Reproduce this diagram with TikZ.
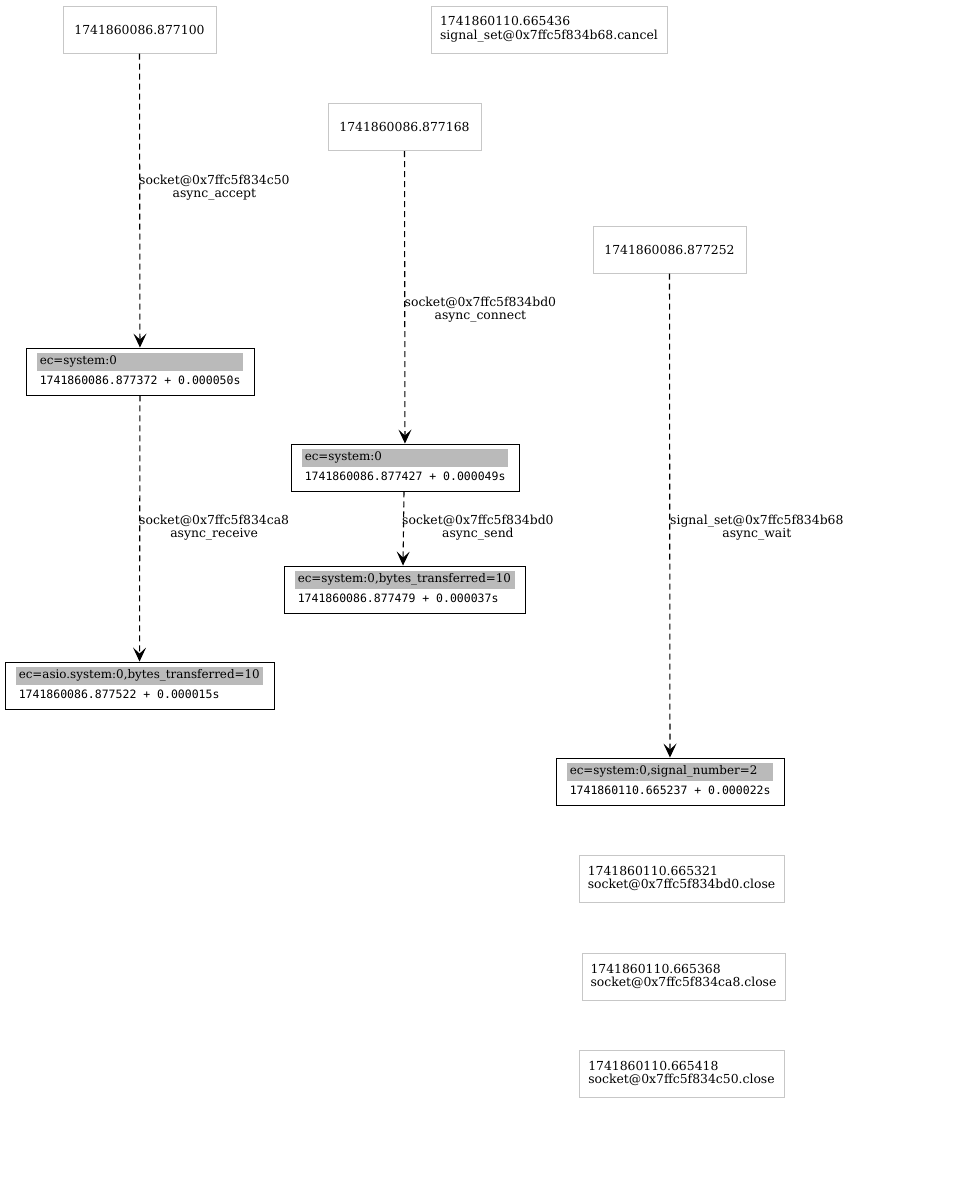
\documentclass[tikz,border=0pt]{standalone}
\usepackage{fontspec}
\setmainfont{DejaVu Serif}
\setmonofont{DejaVu Sans Mono}
\usetikzlibrary{arrows.meta,calc}
\newcommand{\srf}{\fontsize{12.4}{13.5}\selectfont}
\newcommand{\srfs}{\fontsize{11.9}{13.5}\selectfont}
\newcommand{\mno}{\ttfamily\fontsize{11.5}{13}\selectfont}
\begin{document}
\begin{tikzpicture}[x=1pt,y=-1pt,
  plainbox/.style={draw=black!22, line width=1pt, minimum height=47pt, inner sep=0pt, align=left, font=\srf},
  resbox/.style={draw=black, line width=0.9pt, minimum height=47pt, inner sep=0pt},
  cell/.style={fill=black!27},
  lbl/.style={anchor=west, inner sep=0pt, font=\srfs},
  mono/.style={anchor=west, inner sep=0pt, font=\mno},
  edge/.style={line width=1.1pt, dash pattern=on 6pt off 4pt, -{Stealth[length=14pt,width=13pt,inset=6pt]}},
  elbl/.style={anchor=west, inner sep=0pt, align=center, font=\srf}]
\useasboundingbox (0,0) rectangle (957,1200);
% start boxes
\node[plainbox, minimum width=153pt] (A) at (139.5,29.5) {1741860086.877100};
\node[plainbox, minimum width=236pt] (B) at (549,29.5) {1741860110.665436\\signal\_set@0x7ffc5f834b68.cancel};
\node[plainbox, minimum width=153pt] (C) at (404.5,127) {1741860086.877168};
\node[plainbox, minimum width=153pt] (D) at (669.5,249.5) {1741860086.877252};
% result boxes
\node[resbox, minimum width=228pt] (E) at (140,371.5) {};
\fill[cell] ($(E.north west)+(11,5)$) rectangle ($(E.north east)+(-11,23)$);
\node[lbl] (Ea) at ($(E.north west)+(14,14)$) {ec=system:0};
\node[mono] (Eb) at ($(E.north west)+(14,32.5)$) {1741860086.877372 + 0.000050s};
\node[resbox, minimum width=228pt] (F) at (405,467.5) {};
\fill[cell] ($(F.north west)+(11,5)$) rectangle ($(F.north east)+(-11,23)$);
\node[lbl] (Fa) at ($(F.north west)+(14,14)$) {ec=system:0};
\node[mono] (Fb) at ($(F.north west)+(14,32.5)$) {1741860086.877427 + 0.000049s};
\node[resbox, minimum width=241pt] (G) at (404.5,589.5) {};
\fill[cell] ($(G.north west)+(11,5)$) rectangle ($(G.north east)+(-10,23)$);
\node[lbl] (Ga) at ($(G.north west)+(14,14)$) {ec=system:0,bytes\_transferred=10};
\node[mono] (Gb) at ($(G.north west)+(14,32.5)$) {1741860086.877479 + 0.000037s};
\node[resbox, minimum width=269pt] (H) at (139.5,685.5) {};
\fill[cell] ($(H.north west)+(11,5)$) rectangle ($(H.north east)+(-11,23)$);
\node[lbl] (Ha) at ($(H.north west)+(14,14)$) {ec=asio.system:0,bytes\_transferred=10};
\node[mono] (Hb) at ($(H.north west)+(14,32.5)$) {1741860086.877522 + 0.000015s};
\node[resbox, minimum width=228pt] (I) at (670,781.5) {};
\fill[cell] ($(I.north west)+(11,5)$) rectangle ($(I.north east)+(-11,23)$);
\node[lbl] (Ia) at ($(I.north west)+(14,14)$) {ec=system:0,signal\_number=2};
\node[mono] (Ib) at ($(I.north west)+(14,32.5)$) {1741860110.665237 + 0.000022s};
% close boxes
\node[plainbox, minimum width=205pt] (J) at (681.5,878.5) {1741860110.665321\\socket@0x7ffc5f834bd0.close};
\node[plainbox, minimum width=203pt] (K) at (683.5,976.5) {1741860110.665368\\socket@0x7ffc5f834ca8.close};
\node[plainbox, minimum width=205pt] (L) at (681.5,1073.5) {1741860110.665418\\socket@0x7ffc5f834c50.close};
% edges
\draw[edge] (A) -- (E);
\draw[edge] (E) -- (H);
\draw[edge] (C) -- (F);
\draw[edge] (F.south -| 404,0) -- (G.north -| 403,0);
\draw[edge] (D) -- (I);
% edge labels
\node[elbl] (l1) at (139,187.5) {socket@0x7ffc5f834c50\\async\_accept};
\node[elbl] (l2) at (139,527.5) {socket@0x7ffc5f834ca8\\async\_receive};
\node[elbl] (l3) at (404.5,309.5) {socket@0x7ffc5f834bd0\\async\_connect};
\node[elbl] (l4) at (402,527.5) {socket@0x7ffc5f834bd0\\async\_send};
\node[elbl] (l5) at (670,527.5) {signal\_set@0x7ffc5f834b68\\async\_wait};
\end{tikzpicture}
\end{document}
